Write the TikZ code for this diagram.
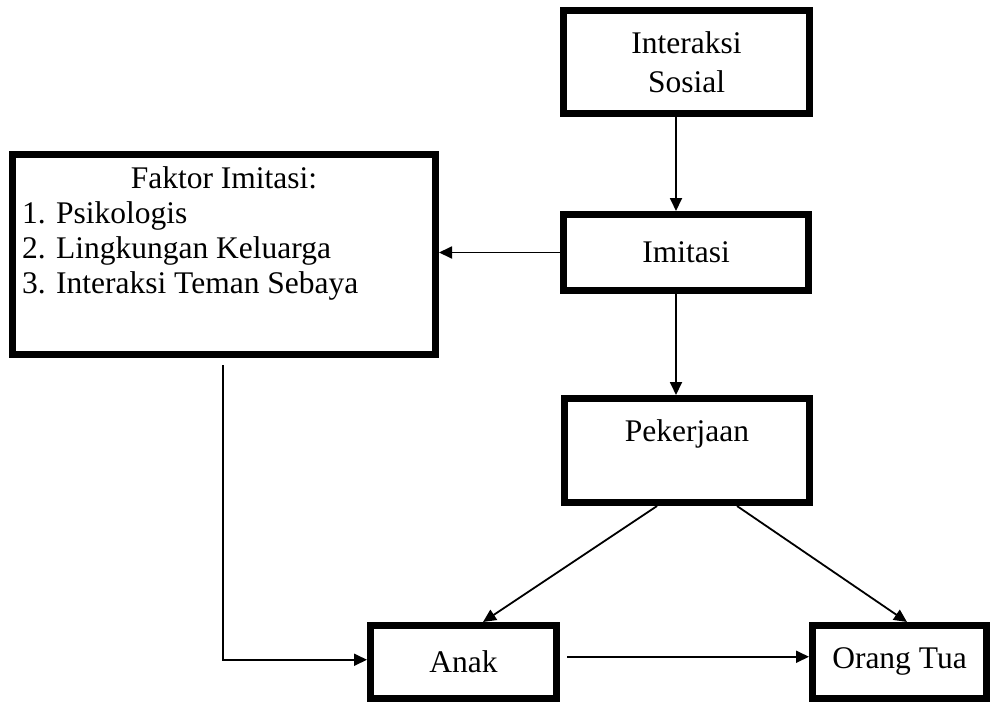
\documentclass[tikz,border=0pt]{standalone}
\usepackage{fontspec}
\setmainfont{Liberation Serif}
\usetikzlibrary{arrows.meta}

\begin{document}
\begin{tikzpicture}[x=1pt,y=-1pt,
    font=\fontsize{31.5}{35}\selectfont,
    box/.style={draw, line width=7pt, inner sep=0pt, align=center},
    link/.style={line width=1.8pt},
    arr/.style={link, -{Triangle[length=13pt,width=12pt]}}]
    \useasboundingbox (0,0) rectangle (991,717);
    % boxes
    \node[box, minimum width=246pt, minimum height=103pt, font=\fontsize{31.5}{39}\selectfont] (sosial) at (686.5,62) {Interaksi\\Sosial};
    \node[box, minimum width=423pt, minimum height=200pt] (faktor) at (224,254.5) {};
    \node[anchor=north, inner sep=0pt] (faktortext) at ([yshift=-12.5pt]faktor.north) {\begin{tabular}{@{}p{404pt}@{}}\centering Faktor Imitasi:\tabularnewline 1. Psikologis\\ 2. Lingkungan Keluarga\\ 3. Interaksi Teman Sebaya\end{tabular}};
    \node[box, minimum width=245pt, minimum height=76pt] (imitasi) at (686,252.5) {Imitasi};
    \node[box, minimum width=245pt, minimum height=104pt] (pekerjaan) at (687,450.5) {};
    \node[anchor=base, inner sep=0pt] (pekerjaantext) at ([yshift=-46pt]pekerjaan.north) {Pekerjaan};
    \node[box, minimum width=186pt, minimum height=72.5pt] (anak) at (463.5,661.75) {Anak};
    \node[box, minimum width=174pt, minimum height=72.5pt] (orangtua) at (899.5,661.75) {Orang Tua};
    % connectors
    \draw[arr] ([xshift=-10.5pt]sosial.south) -- ([xshift=-10.5pt]sosial.south |- imitasi.north);
    \draw[arr] (imitasi.west) -- (imitasi.west -| faktor.east);
    \draw[arr] ([xshift=-10pt]imitasi.south) -- ([xshift=-10pt]imitasi.south |- pekerjaan.north);
    \draw[arr] ([xshift=-30pt]pekerjaan.south) -- ([xshift=19.5pt]anak.north);
    \draw[arr] ([xshift=50pt]pekerjaan.south) -- ([xshift=7.5pt]orangtua.north);
    \draw[arr] ([xshift=-1pt,yshift=-7pt]faktor.south) |- ([yshift=2pt]anak.west);
    \draw[arr] ([xshift=7pt,yshift=5pt]anak.east) -- ([yshift=5pt]orangtua.west);
\end{tikzpicture}
\end{document}
